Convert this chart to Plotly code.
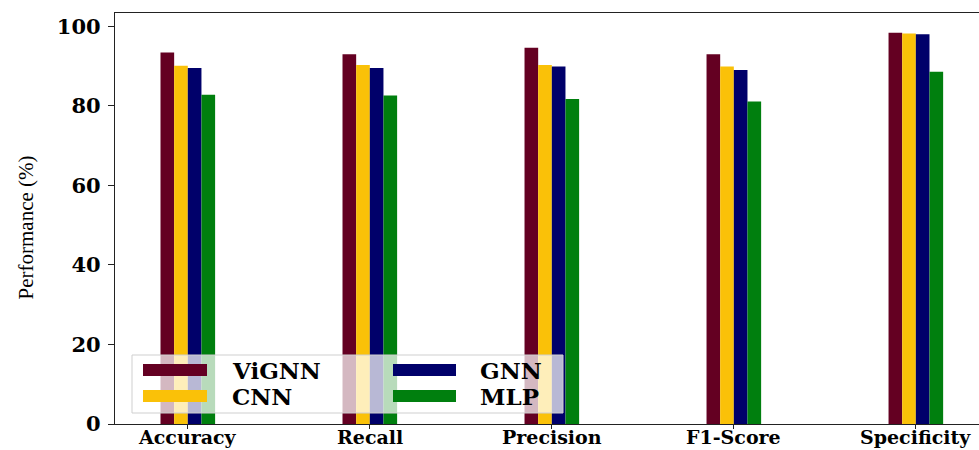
import plotly.graph_objects as go

# Metrics and model scores (%)
metrics = ["Accuracy", "Recall", "Precision", "F1-Score", "Specificity"]
models = ["ViGNN", "CNN", "GNN", "MLP"]
vignn = [93.4, 93.0, 94.6, 93.0, 98.4]
cnn = [90.1, 90.3, 90.3, 89.9, 98.2]
gnn = [89.5, 89.5, 89.9, 89.0, 98.0]
mlp = [82.8, 82.6, 81.7, 81.1, 88.6]
y_ticks = [0, 20, 40, 60, 80, 100]

colors = ["#640022", "#FAC108", "#00006A", "#007F0E"]
series = [vignn, cnn, gnn, mlp]

W, H = 979, 450
M_L, M_R, M_T, M_B = 115, 0, 13, 26

fig = go.Figure()
for name, vals, col in zip(models, series, colors):
    fig.add_trace(go.Bar(
        x=metrics, y=vals, name=name,
        marker=dict(color=col, line=dict(width=0)),
        showlegend=False,
    ))

fig.update_layout(
    width=W, height=H,
    margin=dict(l=M_L, r=M_R, t=M_T, b=M_B, pad=0),
    paper_bgcolor="white", plot_bgcolor="white",
    barmode="group", bargap=0.7, bargroupgap=0.0,
    xaxis=dict(
        range=[-0.4, 4.347], showgrid=False, zeroline=False, automargin=False,
        showline=True, linecolor="#222", linewidth=1.3, mirror=True,
        ticks="outside", ticklen=4, tickcolor="#222", tickwidth=1.2,
        showticklabels=False,
    ),
    yaxis=dict(
        range=[0, 103.35], showgrid=False, zeroline=False, automargin=False,
        tickvals=y_ticks, ticktext=[str(v) for v in y_ticks],
        showline=True, linecolor="#222", linewidth=1.3, mirror=False,
        ticks="outside", ticklen=6, tickcolor="#222", tickwidth=1.2,
        tickfont=dict(family="DejaVu Serif", size=21, color="black", weight="bold"),
        ticklabelstandoff=3,
    ),
)

pw, ph = W - M_L - M_R, H - M_T - M_B


def px(x):
    return (x - M_L) / pw


def py(y):
    return (H - M_B - y) / ph


# Category labels set tight under the axis
for m in metrics:
    fig.add_annotation(
        text=m, xref="x", yref="paper", x=m, y=py(449),
        xanchor="center", yanchor="bottom", borderpad=0,
        showarrow=False,
        font=dict(family="DejaVu Serif", size=19, color="black", weight="bold"),
    )

# Y-axis title
fig.add_annotation(
    text="Performance (%)", textangle=-90,
    xref="paper", yref="paper", x=0, y=0.5, xanchor="center", yanchor="middle",
    xshift=-90, yshift=-9, showarrow=False,
    font=dict(family="Liberation Serif", size=21, color="black"),
)

# Legend drawn as a framed box with wide colour swatches (two columns)
fig.add_shape(
    type="rect", xref="paper", yref="paper",
    x0=px(132), x1=px(563), y0=py(413), y1=py(355),
    fillcolor="rgba(255,255,255,0.72)", line=dict(color="#cfcfcf", width=1),
    layer="above",
)
legend_slots = [
    (143, 207, 230, 370),  # ViGNN
    (143, 207, 230, 396),  # CNN
    (393, 456, 478, 370),  # GNN
    (393, 456, 478, 396),  # MLP
]
for name, col, (hx0, hx1, tx, yc) in zip(models, colors, legend_slots):
    fig.add_shape(
        type="rect", xref="paper", yref="paper",
        x0=px(hx0), x1=px(hx1), y0=py(yc + 6), y1=py(yc - 6),
        fillcolor=col, line=dict(width=0), layer="above",
    )
    fig.add_annotation(
        text=name, xref="paper", yref="paper", x=px(tx), y=py(yc),
        xanchor="left", yanchor="middle", showarrow=False,
        font=dict(family="DejaVu Serif", size=23, color="black", weight="bold"),
    )

fig.write_html("out.html")
